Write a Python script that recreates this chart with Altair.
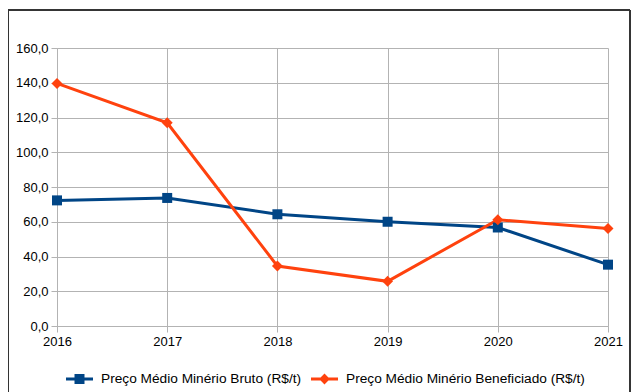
import altair as alt
import pandas as pd

years = ["2016", "2017", "2018", "2019", "2020", "2021"]
bruto = [72.3, 73.7, 64.3, 60.0, 56.7, 35.3]
benef = [139.6, 117.0, 34.5, 25.7, 61.2, 56.1]
name_bruto = "Preço Médio Minério Bruto (R$/t)"
name_benef = "Preço Médio Minério Beneficiado (R$/t)"
y_ticks = [0, 20, 40, 60, 80, 100, 120, 140, 160]

BLUE = "#004586"
ORANGE = "#ff420e"
GRID = "#b3b3b3"
FONT = "Liberation Sans"

df_a = pd.DataFrame({"ano": years, "valor": bruto, "serie_a": [name_bruto] * len(years)})
df_b = pd.DataFrame({"ano": years, "valor": benef, "serie_b": [name_benef] * len(years)})

x_enc = alt.X(
    "ano:O",
    scale=alt.Scale(type="point", padding=0),
    axis=alt.Axis(
        title=None, labelAngle=0, grid=True, gridColor=GRID, domainColor=GRID,
        tickColor=GRID, tickSize=6, labelFont=FONT, labelFontSize=13,
        labelColor="black", labelPadding=3,
    ),
)
y_enc = alt.Y(
    "valor:Q",
    scale=alt.Scale(domain=[0, 160], nice=False),
    axis=alt.Axis(
        title=None, values=y_ticks, grid=True, gridColor=GRID, domainColor=GRID,
        tickColor=GRID, tickSize=6, labelFont=FONT, labelFontSize=13,
        labelColor="black", labelPadding=3,
        labelExpr="replace(format(datum.value, '.1f'), '.', ',')",
    ),
)

sq_path = "M-1,-0.11H1V0.11H-1Z M-0.37,-0.37H0.37V0.37H-0.37Z"
dm_path = "M-1,-0.11H1V0.11H-1Z M0,-0.4L0.4,0L0,0.4L-0.4,0Z"

def leg(path, lx):
    return alt.Legend(
        title=None, orient="none", legendX=lx, legendY=317.5, padding=0,
        symbolType=path, symbolSize=729, symbolStrokeWidth=0,
        labelFont=FONT, labelFontSize=13.7, labelColor="black", labelOffset=8,
        labelLimit=600,
    )

line_a = alt.Chart(df_a).mark_line(strokeWidth=3, color=BLUE).encode(x=x_enc, y=y_enc)
pt_a = alt.Chart(df_a).mark_point(filled=True, shape="square", size=100, opacity=1).encode(
    x=x_enc, y=y_enc,
    color=alt.Color("serie_a:N", scale=alt.Scale(range=[BLUE]), legend=leg(sq_path, 9)),
)
line_b = alt.Chart(df_b).mark_line(strokeWidth=3, color=ORANGE).encode(x=x_enc, y=y_enc)
pt_b = alt.Chart(df_b).mark_point(filled=True, shape="diamond", size=120, opacity=1).encode(
    x=x_enc, y=y_enc,
    color=alt.Color("serie_b:N", scale=alt.Scale(range=[ORANGE]), legend=leg(dm_path, 254)),
)

frame_top = alt.Chart(df_a).mark_rule(color="#333333", strokeWidth=1).encode(
    x=alt.value(-49), x2=alt.value(573), y=alt.value(-38)
)
frame_left = alt.Chart(df_a).mark_rule(color="#333333", strokeWidth=1).encode(
    x=alt.value(-48.5), y=alt.value(-38), y2=alt.value(346)
)
frame_right = alt.Chart(df_a).mark_rule(color="#333333", strokeWidth=1).encode(
    x=alt.value(573), y=alt.value(-38), y2=alt.value(346)
)

chart = (
    alt.layer(frame_top, frame_left, frame_right, line_a, line_b, pt_a, pt_b)
    .resolve_scale(color="independent")
    .properties(
        width=551, height=278,
        autosize=alt.AutoSizeParams(type="none"),
        padding={"left": 49, "top": 40, "right": 25, "bottom": 66},
        background="white",
    )
    .configure_view(stroke=None)
)

chart.save("out.html", embed_options={"renderer": "svg", "actions": False})
